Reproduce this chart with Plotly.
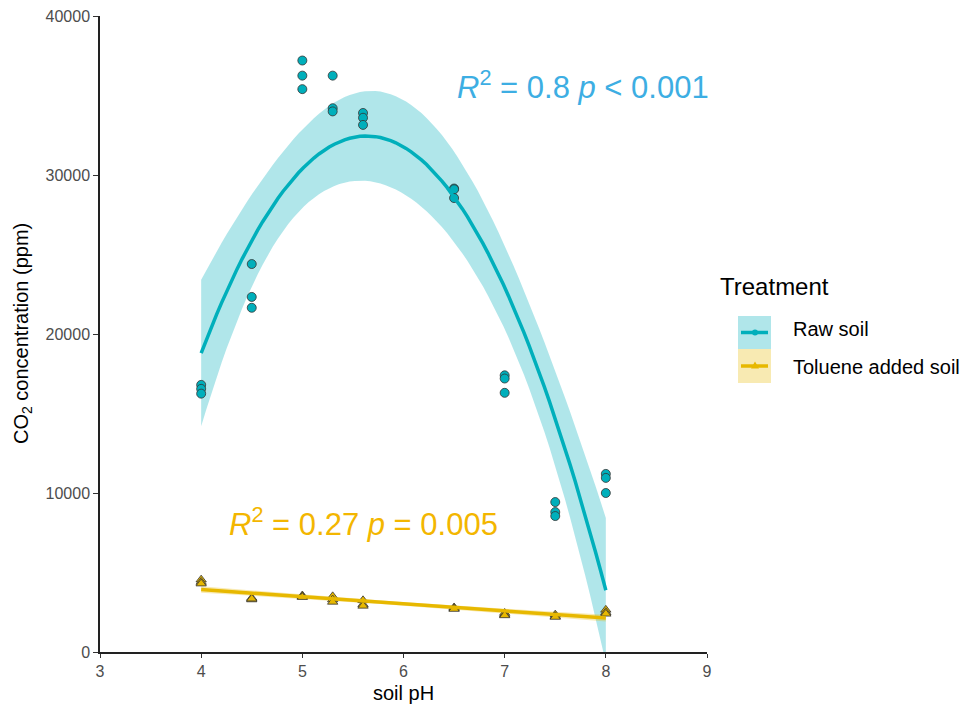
import numpy as np
import plotly.graph_objects as go

# ---------------- data ----------------
raw_ph = [4, 4, 4, 4.5, 4.5, 4.5, 5, 5, 5, 5.3, 5.3, 5.3, 5.6, 5.6, 5.6,
          6.5, 6.5, 6.5, 7, 7, 7, 7.5, 7.5, 7.5, 8, 8, 8]
raw_co2 = [16800, 16550, 16250, 24400, 22330, 21650, 37200, 36250, 35400,
           36250, 34200, 34000, 33900, 33600, 33150, 29150, 29100, 28550,
           17400, 17200, 16300, 9430, 8800, 8550, 11200, 10950, 10000]

tol_ph = [4, 4, 4, 4.5, 4.5, 4.5, 5, 5, 5, 5.3, 5.3, 5.3, 5.6, 5.6, 5.6,
          6.5, 6.5, 6.5, 7, 7, 7, 7.5, 7.5, 7.5, 8, 8, 8]
tol_co2 = [4550, 4400, 4300, 3400, 3300, 3350, 3550, 3500, 3450,
           3500, 3300, 3150, 3250, 3000, 2900, 2800, 2750, 2700,
           2450, 2350, 2300, 2350, 2250, 2200, 2650, 2500, 2400]

x_ticks = [3, 4, 5, 6, 7, 8, 9]
y_ticks = [0, 10000, 20000, 30000, 40000]

x_title = "soil pH"
y_title = "CO<sub>2</sub> concentration (ppm)"
legend_title = "Treatment"
raw_label = "Raw soil"
tol_label = "Toluene added soil"
raw_stats = "<i>R</i><sup>2</sup> = 0.8 <i>p</i> &lt; 0.001"
tol_stats = "<i>R</i><sup>2</sup> = 0.27 <i>p</i> = 0.005"

RAW_C = "#00AFBB"
TOL_C = "#E7B800"
RAW_BAND = "rgba(0,175,187,0.31)"
TOL_BAND = "rgba(231,184,0,0.30)"
FONT = "Liberation Sans, Arial, sans-serif"

# page geometry (the page body adds an 8px margin around the figure)
W, H = 955, 696
PL, PR, PT, PB = 100, 707, 16, 652   # plot area on screen


def t_quantile(df, z=1.959964):
    return (z + (z**3 + z) / (4 * df) + (5 * z**5 + 16 * z**3 + 3 * z) / (96 * df**2)
            + (3 * z**7 + 19 * z**5 + 17 * z**3 - 15 * z) / (384 * df**3))


def lm_fit(x, y, deg, n_out=80):
    x = np.asarray(x, float)
    y = np.asarray(y, float)
    X = np.vander(x, deg + 1, increasing=True)
    beta, *_ = np.linalg.lstsq(X, y, rcond=None)
    resid = y - X @ beta
    df = len(x) - (deg + 1)
    s2 = resid @ resid / df
    xtxi = np.linalg.inv(X.T @ X)
    xs = np.linspace(x.min(), x.max(), n_out)
    Xs = np.vander(xs, deg + 1, increasing=True)
    yhat = Xs @ beta
    se = np.sqrt(np.sum((Xs @ xtxi) * Xs, axis=1) * s2)
    t = t_quantile(df)
    return xs, yhat, yhat - t * se, yhat + t * se


def px(sx):
    return (sx - PL) / (PR - PL)


def py(sy):
    return 1 - (sy - PT) / (PB - PT)


fig = go.Figure()


def add_group(x, y, deg, color, band, symbol, name):
    xs, yh, lo, hi = lm_fit(x, y, deg)
    fig.add_trace(go.Scatter(
        x=np.concatenate([xs, xs[::-1]]), y=np.concatenate([hi, lo[::-1]]),
        fill="toself", fillcolor=band, line=dict(width=0), mode="lines",
        hoverinfo="skip", showlegend=False, name=name + " 95% CI"))
    fig.add_trace(go.Scatter(
        x=x, y=y, mode="markers", showlegend=False, name=name,
        marker=dict(color=color, size=9, symbol=symbol,
                    line=dict(color="#333333", width=0.8))))
    fig.add_trace(go.Scatter(
        x=xs, y=yh, mode="lines", showlegend=False, name=name + " fit",
        line=dict(color=color, width=3.5)))


add_group(raw_ph, raw_co2, 2, RAW_C, RAW_BAND, "circle", raw_label)
add_group(tol_ph, tol_co2, 1, TOL_C, TOL_BAND, "triangle-up", tol_label)

fig.add_annotation(x=7.77, y=35650, xref="x", yref="y", text=raw_stats,
                   showarrow=False, font=dict(size=31, color="#3DAEE3"))
fig.add_annotation(x=5.605, y=8200, xref="x", yref="y", text=tol_stats,
                   showarrow=False, font=dict(size=31, color="#F3B600"))

# axis titles placed in the margins
fig.add_annotation(x=px(403), y=py(693), xref="paper", yref="paper", text=x_title,
                   xanchor="center", yanchor="middle", showarrow=False,
                   font=dict(size=20, color="black"))
fig.add_annotation(x=px(22), y=py(334), xref="paper", yref="paper", text=y_title,
                   xanchor="center", yanchor="middle", showarrow=False, textangle=-90,
                   font=dict(size=20, color="black"))

# ---------------- legend (drawn by hand to match the key layout) ----------------
fig.add_annotation(x=px(718), y=py(286), xref="paper", yref="paper", text=legend_title,
                   xanchor="left", yanchor="middle", showarrow=False,
                   font=dict(size=24, color="black"))
for (label, color, band, top, bot, text_y, sym) in [
        (raw_label, RAW_C, RAW_BAND, 316, 349, 329, "circle"),
        (tol_label, TOL_C, TOL_BAND, 349, 383, 367, "triangle")]:
    mid = (top + bot) / 2
    fig.add_shape(type="rect", xref="paper", yref="paper",
                  x0=px(738), x1=px(771), y0=py(bot), y1=py(top),
                  fillcolor=band, line=dict(width=0), layer="above")
    fig.add_shape(type="line", xref="paper", yref="paper",
                  x0=px(741), x1=px(768), y0=py(mid), y1=py(mid),
                  line=dict(color=color, width=3.5), layer="above")
    if sym == "circle":
        fig.add_shape(type="circle", xref="paper", yref="paper",
                      xsizemode="pixel", ysizemode="pixel",
                      xanchor=px(755), yanchor=py(mid),
                      x0=-3, x1=3, y0=-3, y1=3,
                      fillcolor=color, line=dict(color=color, width=0), layer="above")
    else:
        fig.add_shape(type="path", xref="paper", yref="paper",
                      xsizemode="pixel", ysizemode="pixel",
                      xanchor=px(755), yanchor=py(mid),
                      path="M -4,-2.5 L 4,-2.5 L 0,4.5 Z",
                      fillcolor=color, line=dict(color=color, width=0), layer="above")
    fig.add_annotation(x=px(791), y=py(text_y), xref="paper", yref="paper", text=label,
                       xanchor="left", yanchor="middle", showarrow=False,
                       font=dict(size=20, color="black"))

fig.update_layout(
    width=W, height=H,
    margin=dict(l=PL - 8, r=W - (PR - 8), t=PT - 8, b=H - (PB - 8), autoexpand=False),
    paper_bgcolor="white", plot_bgcolor="white",
    showlegend=False,
    font=dict(family=FONT, color="black"),
    xaxis=dict(range=[3, 9], tickvals=x_ticks, showline=True, linecolor="#222222",
               linewidth=1.5, ticks="outside", ticklen=4, tickcolor="#333333",
               showgrid=False, zeroline=False, automargin=False,
               ticklabeloverflow="allow",
               tickfont=dict(size=16, color="#4D4D4D")),
    yaxis=dict(range=[0, 40000], tickvals=y_ticks, tickformat="d", showline=True,
               linecolor="#222222", linewidth=1.5, ticks="outside", ticklen=5,
               tickcolor="#333333", showgrid=False, zeroline=False, automargin=False,
               ticklabeloverflow="allow",
               tickfont=dict(size=16, color="#4D4D4D")),
)

fig.write_html("out.html")
